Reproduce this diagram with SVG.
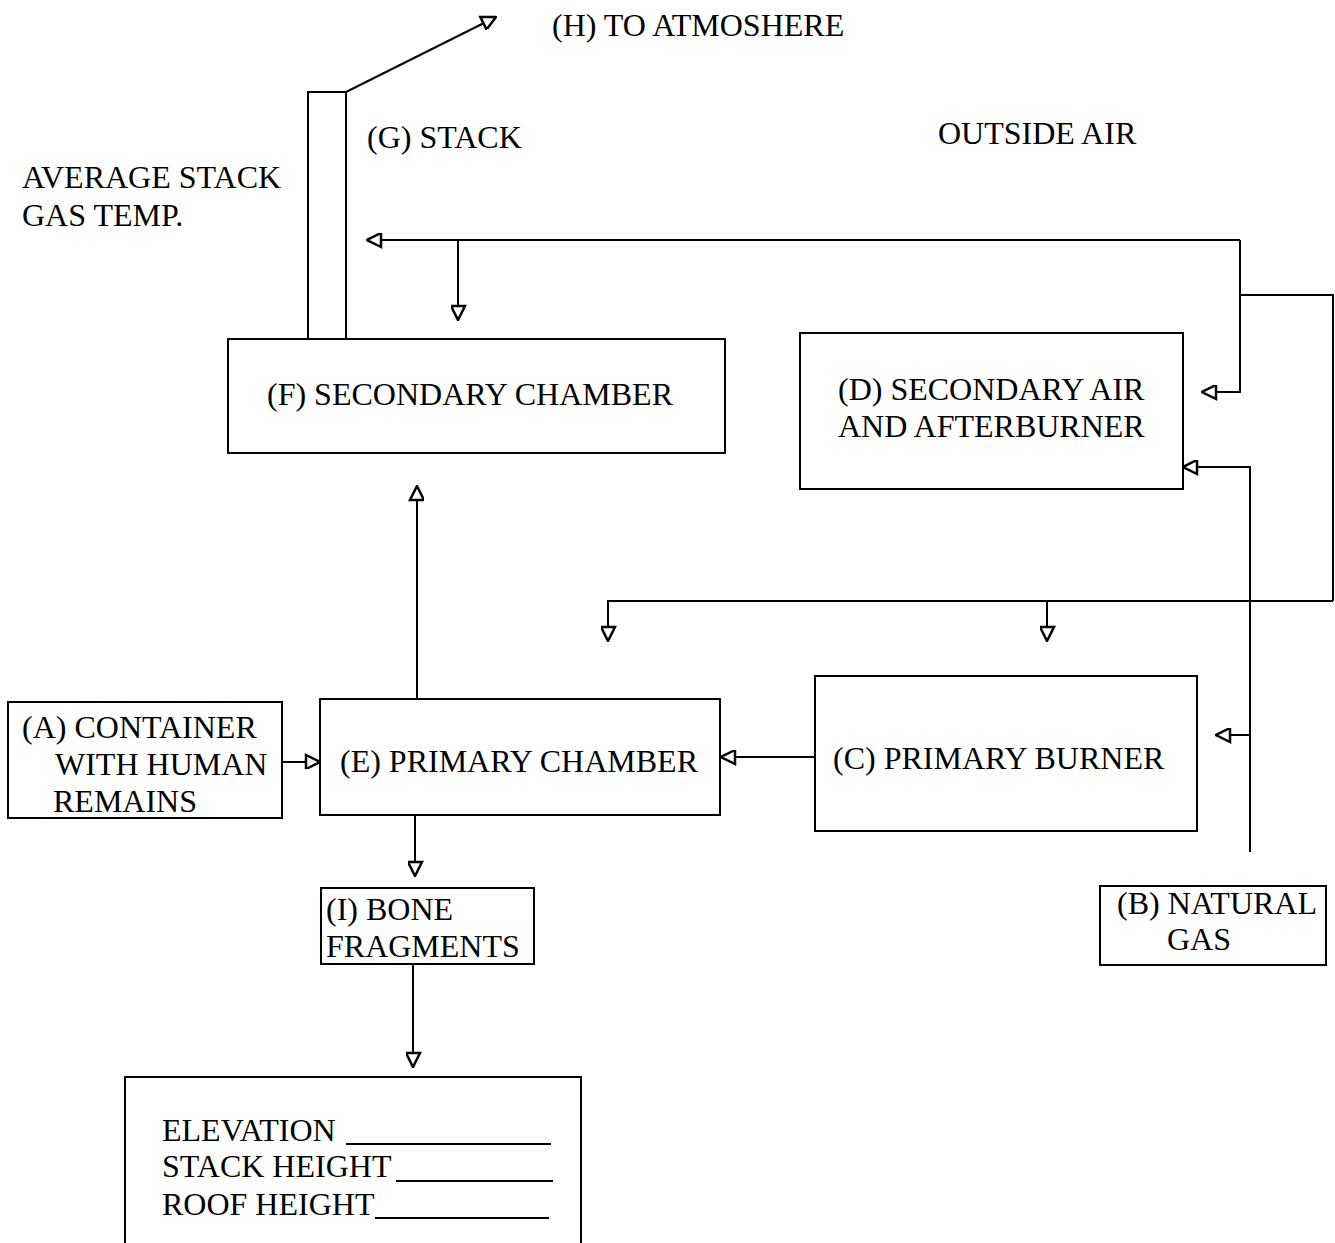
<svg xmlns="http://www.w3.org/2000/svg" width="1335" height="1243" viewBox="0 0 1335 1243">
<style>
.box{fill:none;stroke:#000;stroke-width:2}
.ln{fill:none;stroke:#000;stroke-width:2}
.ar{marker-end:url(#ah)}
text{font-family:"Liberation Serif","Times New Roman",serif;font-size:32px;fill:#000}
</style>
<defs>
<marker id="ah" markerUnits="userSpaceOnUse" markerWidth="18" markerHeight="16" refX="15" refY="7" orient="auto" viewBox="-2 -2 18 16">
<path d="M1,0 L15,7 L1,14 Z" fill="#fff" stroke="#000" stroke-width="2.5"/>
</marker>
</defs>
<rect width="1335" height="1243" fill="#fff"/>

<g id="connectors">
<polyline class="ln ar" points="346,92 496,17"/>
<polyline class="ln ar" points="1240,240 367,240"/>
<polyline class="ln ar" points="458,240 458,320"/>
<polyline class="ln ar" points="1240,240 1240,392 1202,392"/>
<polyline class="ln" points="1240,295 1333,295 1333,601"/>
<polyline class="ln ar" points="1333,601 608,601 608,641"/>
<polyline class="ln ar" points="1047,601 1047,641"/>
<polyline class="ln ar" points="1250,852 1250,467 1183,467"/>
<polyline class="ln ar" points="1250,735 1216,735"/>
<polyline class="ln ar" points="417,698 417,486"/>
<polyline class="ln ar" points="415,815 415,876"/>
<polyline class="ln ar" points="413,964 413,1067"/>
<polyline class="ln ar" points="282,762 320,762"/>
<polyline class="ln ar" points="815,757 721,757"/>
</g>

<g id="G">
<rect class="box" x="308" y="92" width="38" height="247"/>
<text x="367" y="148">(G) STACK</text>
</g>
<g id="H"><text x="552" y="36">(H) TO ATMOSHERE</text></g>
<g id="outside-air"><text x="938" y="144">OUTSIDE AIR</text></g>
<g id="avg-temp">
<text x="22" y="188">AVERAGE STACK</text>
<text x="22" y="226">GAS TEMP.</text>
</g>
<g id="F">
<rect class="box" x="228" y="339" width="497" height="114"/>
<text x="267" y="405">(F) SECONDARY CHAMBER</text>
</g>
<g id="D">
<rect class="box" x="800" y="333" width="383" height="156"/>
<text x="838" y="400">(D) SECONDARY AIR</text>
<text x="838" y="437">AND AFTERBURNER</text>
</g>
<g id="C">
<rect class="box" x="815" y="676" width="382" height="155"/>
<text x="833" y="769">(C) PRIMARY BURNER</text>
</g>
<g id="E">
<rect class="box" x="320" y="699" width="400" height="116"/>
<text x="340" y="772">(E) PRIMARY CHAMBER</text>
</g>
<g id="A">
<rect class="box" x="8" y="702" width="274" height="116"/>
<text x="22" y="738">(A) CONTAINER</text>
<text x="55" y="775">WITH HUMAN</text>
<text x="53" y="812">REMAINS</text>
</g>
<g id="I">
<rect class="box" x="321" y="888" width="213" height="76"/>
<text x="326" y="920">(I) BONE</text>
<text x="326" y="957">FRAGMENTS</text>
</g>
<g id="B">
<rect class="box" x="1100" y="886" width="226" height="79"/>
<text x="1117" y="914">(B) NATURAL</text>
<text x="1167" y="950">GAS</text>
</g>
<g id="site">
<path class="box" d="M125,1243 L125,1077 L581,1077 L581,1243"/>
<text x="162" y="1141">ELEVATION</text>
<line class="ln" x1="346" y1="1144" x2="551" y2="1144" stroke-width="1.5"/>
<text x="162" y="1177">STACK HEIGHT</text>
<line class="ln" x1="396" y1="1181" x2="553" y2="1181" stroke-width="1.5"/>
<text x="162" y="1215">ROOF HEIGHT</text>
<line class="ln" x1="375" y1="1218" x2="549" y2="1218" stroke-width="1.5"/>
</g>
</svg>
